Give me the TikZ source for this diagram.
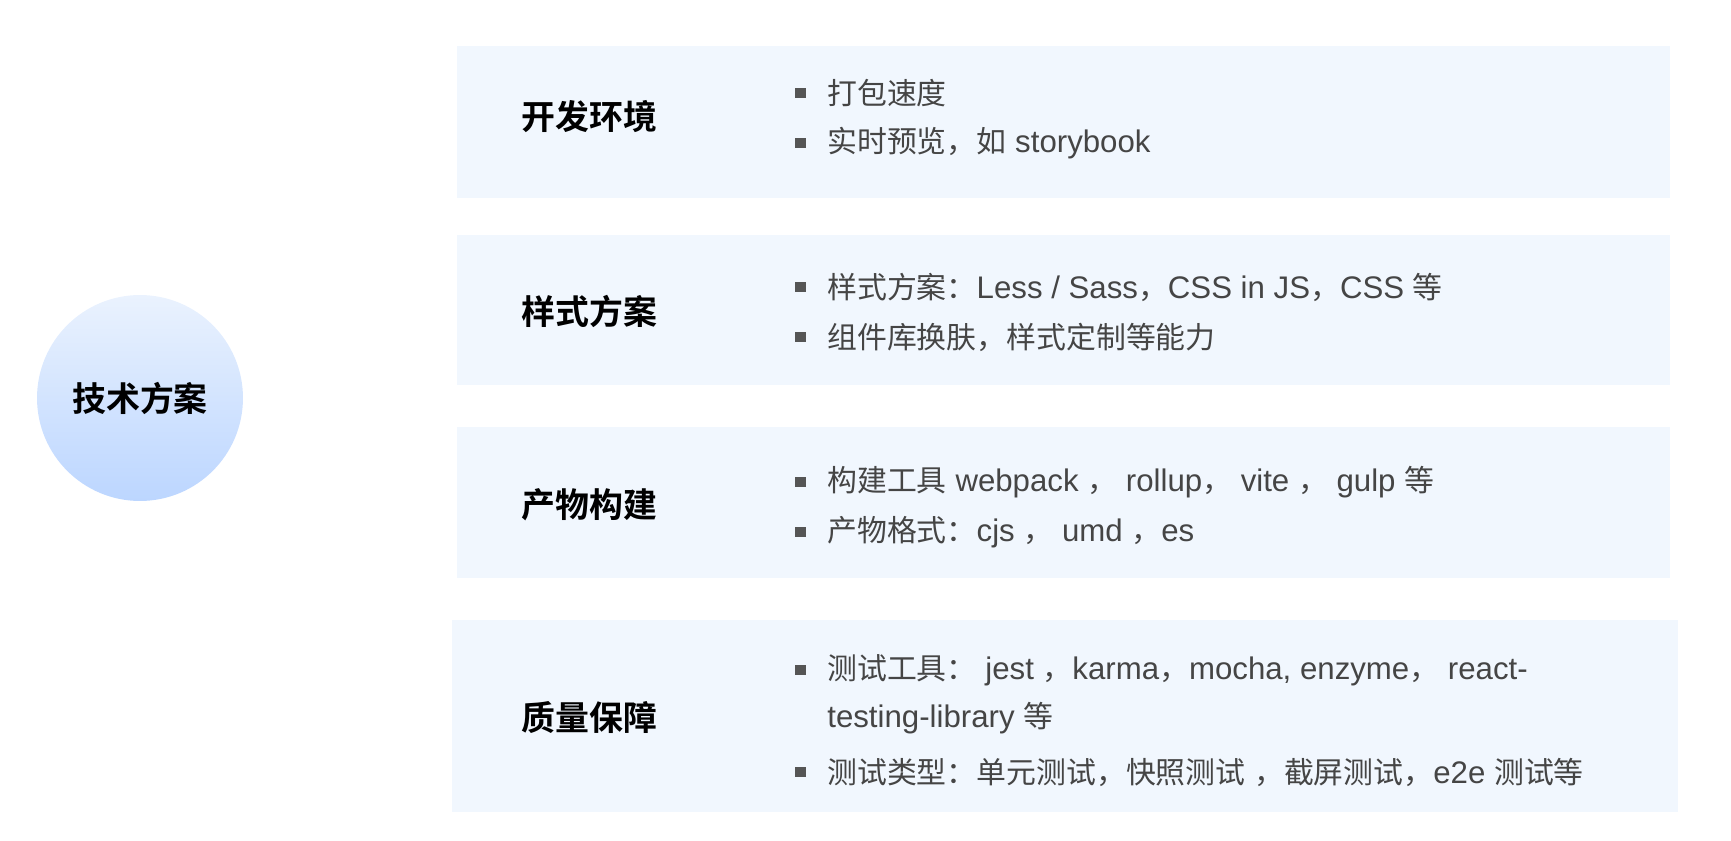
\documentclass[tikz,border=0pt]{standalone}
\usepackage{fontspec}
\setmainfont{Noto Sans CJK SC}[BoldFont={Noto Sans CJK SC Bold}]
\newfontfamily\enfont{Liberation Sans}[Scale=1.045]
\newcommand\enf[1]{{\enfont #1}}
\usetikzlibrary{positioning}
\definecolor{cpanel}{HTML}{F1F7FE}
\definecolor{ctop}{HTML}{EAF2FE}
\definecolor{cbot}{HTML}{BCD6FF}
\definecolor{ctext}{HTML}{454545}
\definecolor{cdot}{HTML}{555555}
\tikzset{
  panel/.style={fill=cpanel, draw=none, minimum width=24.26cm, inner sep=0pt},
  hub/.style={circle, top color=ctop, bottom color=cbot, draw=none, minimum size=4.12cm, inner sep=0pt, font=\fontsize{19.3}{22}\selectfont\bfseries, text=black},
  title/.style={anchor=west, inner sep=0pt, font=\fontsize{19.3}{22}\selectfont\bfseries, text=black},
  itemtxt/.style={anchor=west, inner sep=0pt, font=\fontsize{17}{20}\selectfont, text=ctext},
  sq/.style={fill=cdot, minimum size=6pt, inner sep=0pt, left=0.42cm of #1},
}
\begin{document}
\begin{tikzpicture}[x=0.02cm, y=-0.02cm]
  \useasboundingbox (0,0) rectangle (1731,841);
  \node[hub] (tech) at (140,398) {技术方案};
  \node[panel, minimum height=3.04cm] (p1) at (1063.5,122) {};
  \node[panel, minimum height=3.00cm] (p2) at (1063.5,310) {};
  \node[panel, minimum height=3.02cm] (p3) at (1063.5,502.5) {};
  \node[panel, minimum width=24.52cm, minimum height=3.84cm] (p4) at (1065,716) {};
  \node[title] (t1) at (521,117) {开发环境};
  \node[title] (t2) at (521,311) {样式方案};
  \node[title] (t3) at (521,505) {产物构建};
  \node[title] (t4) at (521,717) {质量保障};
  \node[itemtxt] (a1) at (827,93) {打包速度};
  \node[itemtxt] (a2) at (827,143) {实时预览，如\enf{ storybook}};
  \node[itemtxt] (b1) at (827,287) {样式方案：\enf{Less / Sass}，\enf{CSS in JS}，\enf{CSS }等};
  \node[itemtxt] (b2) at (827,337) {组件库换肤，样式定制等能力};
  \node[itemtxt] (c1) at (827,482) {构建工具\enf{ webpack }，\enf{ rollup}，\enf{ vite }，\enf{ gulp }等};
  \node[itemtxt] (c2) at (827,532) {产物格式：\enf{cjs }，\enf{ umd }，\enf{es}};
  \node[itemtxt] (d1) at (827,670) {测试工具：\enf{ jest }，\enf{karma}，\enf{mocha, enzyme}，\enf{ react-}};
  \node[itemtxt] (d2) at (827,718) {\enf{testing-library }等};
  \node[itemtxt] (d3) at (827,772) {测试类型：单元测试，快照测试\enf{ }，截屏测试，\enf{e2e }测试等};
  \foreach \n in {a1,a2,b1,b2,c1,c2,d1,d3}
    \node[sq=\n] {};
\end{tikzpicture}
\end{document}
